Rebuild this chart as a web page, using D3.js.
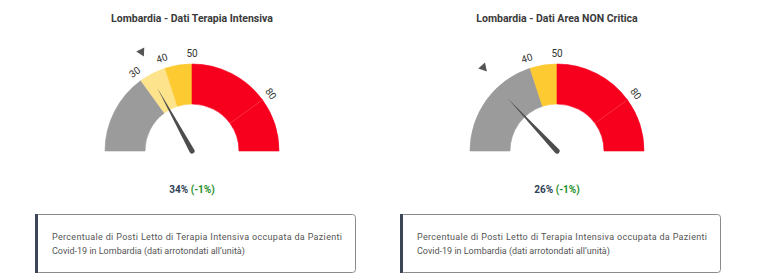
<!DOCTYPE html>
<meta charset="utf-8">
<script src="https://d3js.org/d3.v7.min.js"></script>
<style>
  body { margin: 0; background: #fff; }
  text { font-family: Roboto, "Open Sans", sans-serif; }
</style>
<div id="chart"></div>
<script>

// chart data
var titles = ["Lombardia - Dati Terapia Intensiva", "Lombardia - Dati Area NON Critica"];
var values = [34, 26];
var previous = [35, 27];
var deltas = ["(-1%)", "(-1%)"];
var bands1 = [0, 30, 40, 50, 80, 100];
var bands2 = [0, 40, 50, 80, 100];
var bandColors1 = ["#9b9b9b", "#fde48c", "#fdca31", "#f7001e", "#f7001e"];
var bandColors2 = ["#9b9b9b", "#fdca31", "#f7001e", "#f7001e"];
var ticks1 = [30, 40, 50, 80];
var ticks2 = [40, 50, 80];
var noteLine1 = "Percentuale di Posti Letto di Terapia Intensiva occupata da Pazienti";
var noteLine2 = "Covid-19 in Lombardia (dati arrotondati all\u2019unità)";

var gauges = [
  {title: titles[0], value: values[0], prev: previous[0], delta: deltas[0], bands: bands1, colors: bandColors1, ticks: ticks1, cx: 192, box: 35},
  {title: titles[1], value: values[1], prev: previous[1], delta: deltas[1], bands: bands2, colors: bandColors2, ticks: ticks2, cx: 557, box: 400}
];

var width = 767, height = 280;
var cy = 151, rOuter = 87, rInner = 47;

var svg = d3.select("#chart")
  .append("svg")
    .attr("width", width)
    .attr("height", height);

// 0..100 mapped over a half circle
var angle = d3.scaleLinear().domain([0, 100]).range([-Math.PI / 2, Math.PI / 2]);
var deg = function(v) { return angle(v) * 180 / Math.PI; };

var arc = d3.arc().innerRadius(rInner).outerRadius(rOuter);

gauges.forEach(function(g) {
  var root = svg.append("g");

  root.append("text")
    .attr("x", g.cx)
    .attr("y", 22)
    .attr("text-anchor", "middle")
    .style("font-size", "10.5px")
    .style("font-weight", "700")
    .style("fill", "#3a3a3a")
    .text(g.title);

  var gauge = root.append("g")
    .attr("transform", "translate(" + g.cx + "," + cy + ")");

  var segs = d3.pairs(g.bands);
  gauge.selectAll("path.band")
    .data(segs)
    .enter()
    .append("path")
      .attr("class", "band")
      .attr("d", function(d) { return arc({startAngle: angle(d[0]), endAngle: angle(d[1])}); })
      .style("fill", function(d, i) { return g.colors[i]; })
      .style("stroke", function(d, i) { return g.colors[i]; })
      .style("stroke-width", 0.6);

  // faint separator inside red area
  gauge.append("line")
    .attr("transform", "rotate(" + deg(80) + ")")
    .attr("y1", -rInner).attr("y2", -rOuter)
    .style("stroke", "#ff3a4a")
    .style("stroke-width", 0.6);

  // tick labels
  gauge.selectAll("text.tick")
    .data(g.ticks)
    .enter()
    .append("text")
      .attr("class", "tick")
      .attr("transform", function(d) { return "rotate(" + deg(d) + ") translate(0," + (-94) + ")"; })
      .attr("text-anchor", "middle")
      .style("font-size", "10px")
      .style("fill", "#333")
      .text(function(d) { return d; });

  // previous value marker
  gauge.append("path")
    .attr("transform", "rotate(" + deg(g.prev) + ") translate(0," + (-110) + ")")
    .attr("d", "M-4.5,-4 L4.5,-4 L0,4 Z")
    .style("fill", "#555");

  // needle
  gauge.append("path")
    .attr("transform", "rotate(" + deg(g.value) + ")")
    .attr("d", "M0,-72 L2.6,0 A2.6,2.6 0 0 1 -2.6,0 Z")
    .style("fill", "#4d4d4d");

  // value label
  var val = root.append("text")
    .attr("x", g.cx)
    .attr("y", 193)
    .attr("text-anchor", "middle")
    .style("font-size", "10px")
    .style("font-weight", "700");
  val.append("tspan").style("fill", "#2f4256").text(g.value + "% ");
  val.append("tspan").style("fill", "#1f8f2c").text(g.delta);

  // note box
  root.append("rect")
    .attr("x", g.box + 0.5).attr("y", 214.5)
    .attr("width", 320).attr("height", 58)
    .attr("rx", 3)
    .style("fill", "#fff")
    .style("stroke", "#8a8a8a")
    .style("stroke-width", 1);
  root.append("rect")
    .attr("x", g.box).attr("y", 214)
    .attr("width", 3).attr("height", 59)
    .style("fill", "#3c4656");

  root.append("text")
    .attr("x", g.box + 17)
    .attr("y", 240)
    .attr("textLength", 290)
    .attr("lengthAdjust", "spacing")
    .style("font-size", "9px")
    .style("fill", "#555")
    .text(noteLine1);
  root.append("text")
    .attr("x", g.box + 17)
    .attr("y", 254)
    .style("font-size", "9px")
    .style("fill", "#555")
    .text(noteLine2);
});

</script>
